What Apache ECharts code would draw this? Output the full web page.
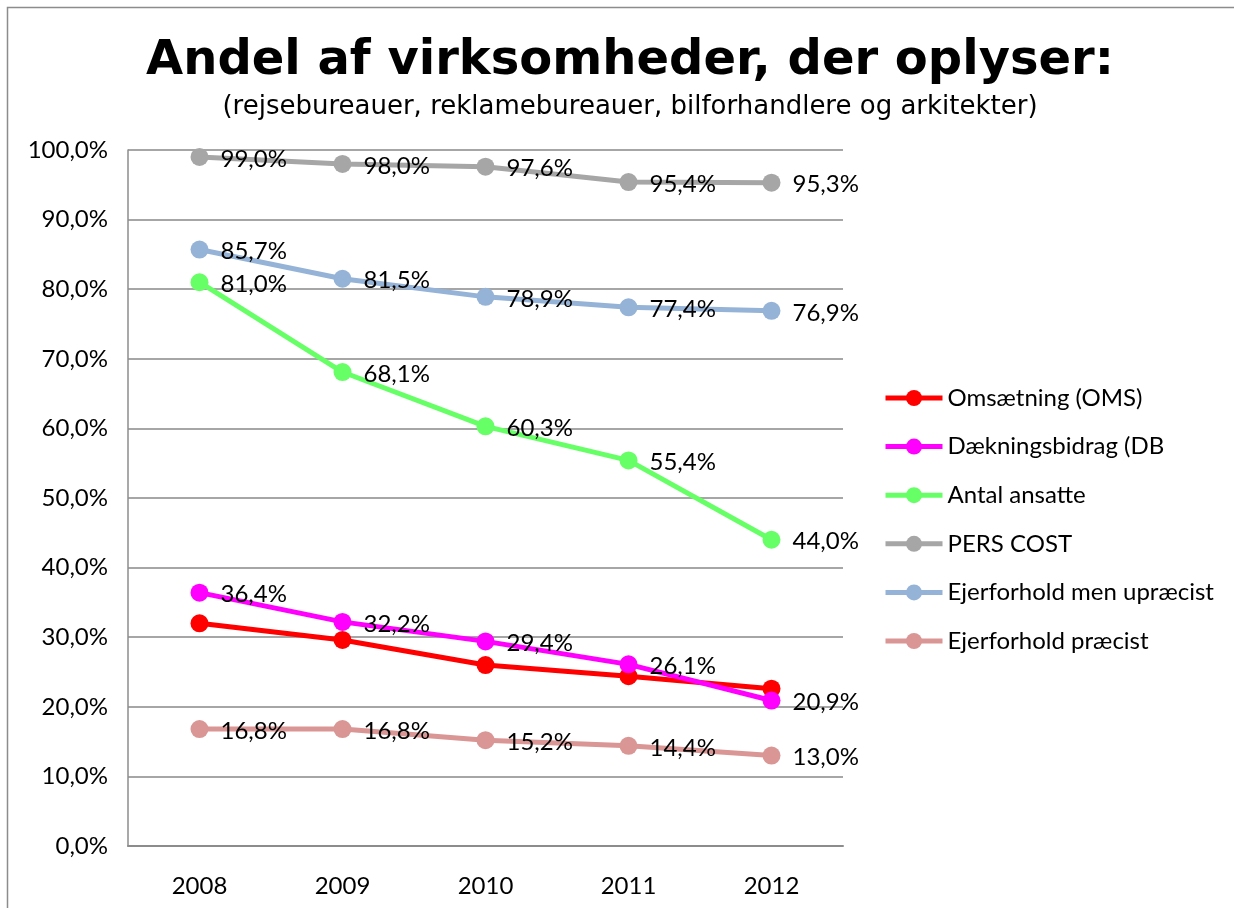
<!DOCTYPE html>
<html>
<head>
<meta charset="utf-8">
<script src="https://cdn.jsdelivr.net/npm/echarts@6/dist/echarts.min.js"></script>
<style>
html,body{margin:0;padding:0;background:#fff}
#chart_main{width:1234px;height:908px}
</style>
</head>
<body>
<div id="chart_main"></div>
<script type="text/javascript">
var years = ['2008', '2009', '2010', '2011', '2012'];
var oms = [32.0, 29.6, 26.0, 24.4, 22.6];
var db = [36.4, 32.2, 29.4, 26.1, 20.9];
var ansatte = [81.0, 68.1, 60.3, 55.4, 44.0];
var persCost = [99.0, 98.0, 97.6, 95.4, 95.3];
var ejerUpraecist = [85.7, 81.5, 78.9, 77.4, 76.9];
var ejerPraecist = [16.8, 16.8, 15.2, 14.4, 13.0];
var yTicks = [0, 10, 20, 30, 40, 50, 60, 70, 80, 90, 100];

var font = 'Lato, "Open Sans", sans-serif';
function pct(v){ return v.toFixed(1).replace('.', ',') + '%'; }

function mk(name, data, color, showLabel){
	return {
		name: name,
		type: 'line',
		data: data,
		symbol: 'circle',
		symbolSize: 18,
		lineStyle: {width: 5, color: color},
		itemStyle: {color: color},
		label: {
			show: showLabel,
			position: 'right',
			distance: 12,
			offset: [0, 2],
			color: '#000',
			fontSize: 24,
			fontFamily: font,
			formatter: function(p){ return pct(p.value); }
		},
		z: 2
	};
}

var myChart = echarts.init(document.getElementById('chart_main'));
var option = {
	animation: false,
	backgroundColor: '#fff',
	title: {
		text: 'Andel af virksomheder, der oplyser:',
		subtext: '(rejsebureauer, reklamebureauer, bilforhandlere og arkitekter)',
		left: 625,
		textAlign: 'center',
		top: 33,
		itemGap: 8,
		textStyle: {fontFamily: '"DejaVu Sans", sans-serif', fontWeight: 'bold', fontSize: 48, color: '#000'},
		subtextStyle: {fontFamily: '"DejaVu Sans", sans-serif', fontSize: 26, color: '#000'}
	},
	graphic: [{
		type: 'rect',
		shape: {x: 7.5, y: 7.5, width: 1300, height: 1000},
		style: {fill: 'none', stroke: '#8c8c8c', lineWidth: 1.5},
		silent: true
	}],
	legend: {
		orient: 'vertical',
		left: 878,
		top: 381,
		itemWidth: 57,
		itemHeight: 20,
		itemGap: 24.6,
		lineStyle: {width: 5},
		textStyle: {fontFamily: font, fontSize: 24, color: '#000', lineHeight: 24},
		data: ['Omsætning (OMS)', 'Dækningsbidrag (DB', 'Antal ansatte', 'PERS COST', 'Ejerforhold men upræcist', 'Ejerforhold præcist']
	},
	grid: {left: 128, right: 391, top: 150, bottom: 62},
	xAxis: {
		type: 'category',
		data: years,
		boundaryGap: true,
		axisLine: {lineStyle: {color: '#8c8c8c', width: 2}},
		axisTick: {show: false},
		axisLabel: {color: '#000', fontSize: 24, fontFamily: font, margin: 28}
	},
	yAxis: {
		type: 'value',
		min: yTicks[0],
		max: yTicks[yTicks.length - 1],
		interval: 10,
		axisLine: {show: true, lineStyle: {color: '#8c8c8c', width: 1.5}},
		axisTick: {show: false},
		splitLine: {lineStyle: {color: '#a6a6a6', width: 2}},
		axisLabel: {color: '#000', fontSize: 24, fontFamily: font, margin: 20, formatter: function(v){ return pct(v); }}
	},
	series: [
		mk('Omsætning (OMS)', oms, '#ff0000', false),
		mk('Dækningsbidrag (DB', db, '#ff00ff', true),
		mk('Antal ansatte', ansatte, '#66ff66', true),
		mk('PERS COST', persCost, '#a6a6a6', true),
		mk('Ejerforhold men upræcist', ejerUpraecist, '#95b3d7', true),
		mk('Ejerforhold præcist', ejerPraecist, '#d99694', true)
	]
};
myChart.setOption(option);
</script>
</body>
</html>
